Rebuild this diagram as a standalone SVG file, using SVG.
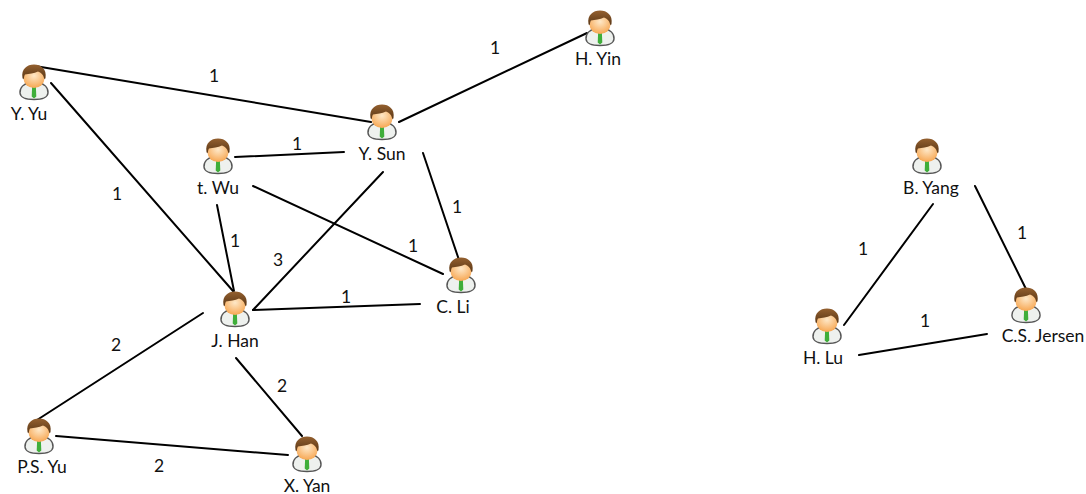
<svg xmlns="http://www.w3.org/2000/svg" width="1086" height="494" viewBox="0 0 1086 494">
<style>
text{font-family:Lato,"Open Sans",sans-serif;font-size:17.500px;fill:#111;text-anchor:middle}
.e{stroke:#000;stroke-width:2;stroke-linecap:round;fill:none}
</style>
<defs>
<radialGradient id="face" cx="0.500" cy="0.350" r="0.700"><stop offset="0" stop-color="#fee8c8"/><stop offset="1" stop-color="#f6a24a"/></radialGradient>
<linearGradient id="hair" x1="0" y1="0" x2="0" y2="1"><stop offset="0" stop-color="#94602f"/><stop offset="1" stop-color="#5a3716"/></linearGradient>
<g id="person">
<path d="M-14 11C-14.500 5.500 -10 1.500 -5 1H5C10 1.500 14.500 5.500 14 11C13.500 16.500 7 17.500 0 17.500S-13.500 16.500 -14 11Z" fill="#eef1ee" stroke="#555" stroke-width="1.400"/>
<path d="M-1.800 2.500L1.800 2.500L2.300 14.500L0 16.500L-2.300 14.500Z" fill="#3fae3a"/>
<ellipse cx="0" cy="-3.500" rx="10.500" ry="9.500" fill="url(#face)"/>
<path d="M-11.500 -4C-13 -13 -7 -17.500 0 -17.500S13 -13 11.500 -4C11 -2.500 10.500 -2.500 10 -4C9.500 -7 7 -9.500 4 -10.500C0 -8.500 -5 -8 -9 -7.500C-9.800 -6 -10 -5 -10 -4C-10.500 -2.500 -11 -2.500 -11.500 -4Z" fill="url(#hair)"/>
</g>
</defs>
<g id="connectors" class="edges">
<path class="e" d="M35 66L371 122"/>
<path class="e" d="M51 83L233 291"/>
<path class="e" d="M399 122L587 33"/>
<path class="e" d="M235 157L344 152"/>
<path class="e" d="M423 153L459 260"/>
<path class="e" d="M253 186L443 274"/>
<path class="e" d="M217 205L234 291"/>
<path class="e" d="M383 172L253 310"/>
<path class="e" d="M253 310L420 304"/>
<path class="e" d="M203 313L37 420"/>
<path class="e" d="M236 358L302 436"/>
<path class="e" d="M56 436L288 455"/>
<path class="e" d="M933 204L844 325"/>
<path class="e" d="M975 186L1026 289"/>
<path class="e" d="M859 355L987 334"/>
</g>
<g id="edge-labels">
<text x="214" y="82">1</text>
<text x="495" y="54">1</text>
<text x="117" y="200">1</text>
<text x="297" y="150">1</text>
<text x="457" y="213">1</text>
<text x="413" y="252">1</text>
<text x="235" y="247">1</text>
<text x="278" y="266">3</text>
<text x="346" y="303">1</text>
<text x="116" y="351">2</text>
<text x="282" y="392">2</text>
<text x="159" y="472">2</text>
<text x="863" y="255">1</text>
<text x="1022" y="239">1</text>
<text x="925" y="327">1</text>
</g>
<g id="y-yu"><use href="#person" x="34" y="82"/><text x="29" y="120">Y. Yu</text></g>
<g id="h-yin"><use href="#person" x="600" y="28"/><text x="598" y="65">H. Yin</text></g>
<g id="y-sun"><use href="#person" x="382" y="122"/><text x="382" y="160">Y. Sun</text></g>
<g id="t-wu"><use href="#person" x="218" y="156"/><text x="218" y="194">t. Wu</text></g>
<g id="c-li"><use href="#person" x="461" y="275"/><text x="453" y="313">C. Li</text></g>
<g id="j-han"><use href="#person" x="235" y="309"/><text x="235" y="347">J. Han</text></g>
<g id="p-s-yu"><use href="#person" x="39" y="436"/><text x="42" y="473">P.S. Yu</text></g>
<g id="x-yan"><use href="#person" x="307" y="454"/><text x="307" y="492">X. Yan</text></g>
<g id="b-yang"><use href="#person" x="927" y="156"/><text x="931" y="194">B. Yang</text></g>
<g id="h-lu"><use href="#person" x="827" y="326"/><text x="823" y="364">H. Lu</text></g>
<g id="c-s-jersen"><use href="#person" x="1026" y="305"/><text x="1043" y="342">C.S. Jersen</text></g>
</svg>
